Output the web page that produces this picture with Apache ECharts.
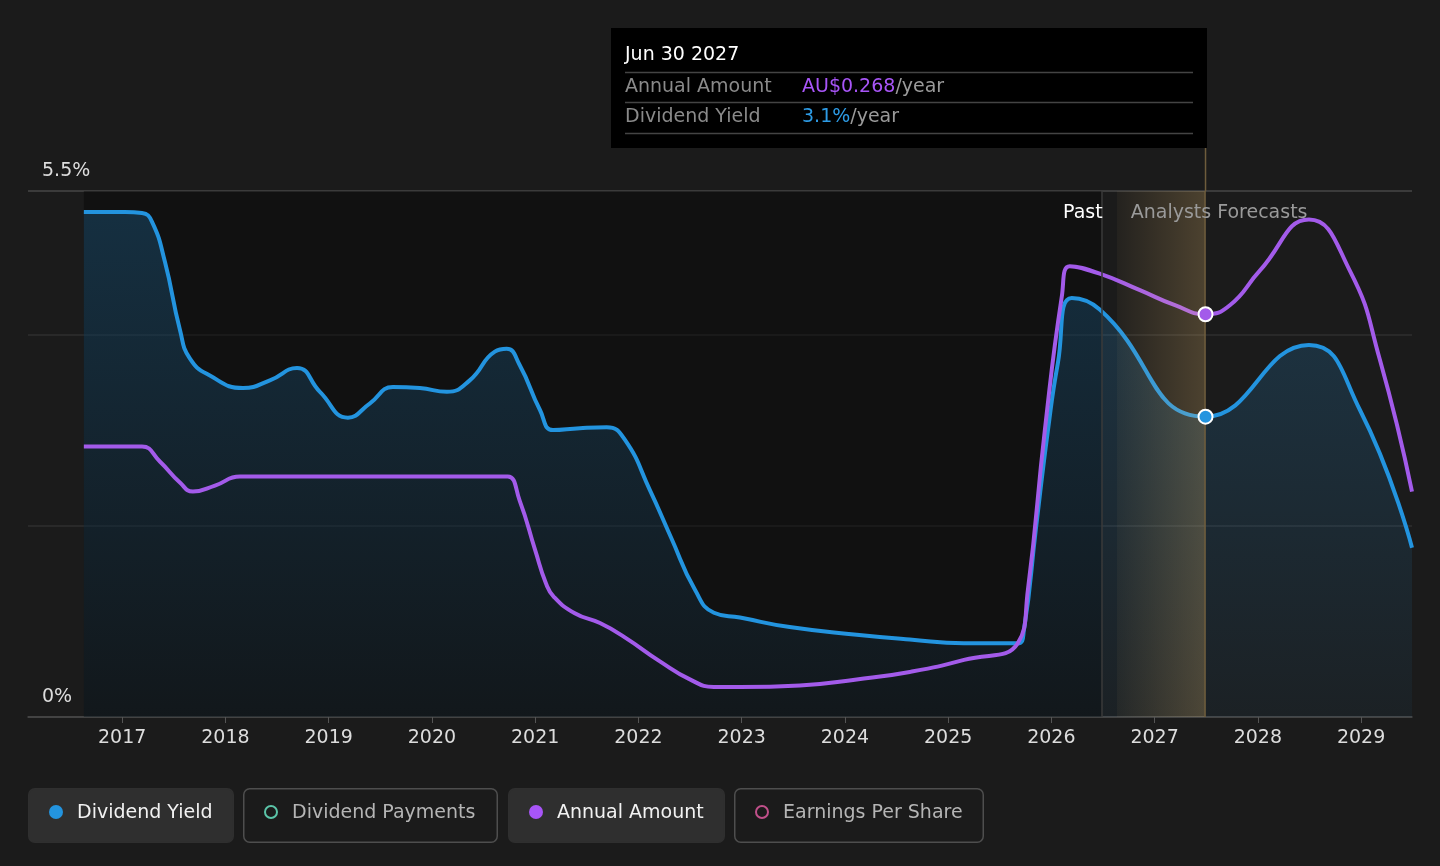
<!DOCTYPE html>
<html><head><meta charset="utf-8">
<script src="https://cdn.jsdelivr.net/npm/echarts@6/dist/echarts.min.js"></script>
<style>html,body{margin:0;padding:0;background:#1b1b1b;}#c{width:1440px;height:866px;}</style>
</head><body><div id="c"></div>
<script>
// ---------- data ----------
const yieldDates = ['2016-08-18','2017-01-11','2017-03-12','2017-04-16','2017-06-01','2017-07-24','2017-08-28','2017-11-07','2018-03-04','2018-06-07','2018-09-11','2018-12-01','2019-03-10','2019-05-27','2019-08-16','2019-11-19','2020-02-23','2020-05-14','2020-08-11','2020-09-22','2020-11-07','2021-01-18','2021-03-05','2021-06-08','2021-09-11','2021-11-14','2022-02-11','2022-04-26','2022-07-20','2022-09-25','2022-12-26','2023-06-20','2024-02-12','2024-08-18','2025-02-26','2025-09-04','2025-09-26','2025-11-07','2025-12-20','2026-01-24','2026-03-14','2026-06-21','2027-06-30','2028-06-30','2028-12-28','2029-06-30'];
const yieldValues = [5.28,5.28,5.27,5.18,4.76,4.05,3.75,3.57,3.44,3.52,3.65,3.40,3.13,3.28,3.45,3.44,3.40,3.52,3.82,3.85,3.68,3.21,3.00,3.02,3.03,2.90,2.37,1.88,1.33,1.09,1.04,0.94,0.86,0.81,0.77,0.77,0.91,1.96,3.00,3.70,4.38,4.26,3.14,3.89,3.21,1.77];

const amountDates = ['2016-08-18','2017-01-11','2017-03-12','2017-05-14','2017-07-24','2017-09-08','2017-11-25','2018-02-21','2018-06-07','2019-09-10','2020-08-11','2020-09-26','2020-11-07','2021-01-01','2021-02-08','2021-03-08','2021-05-21','2021-08-18','2021-11-14','2022-03-18','2022-07-02','2022-09-25','2022-12-26','2023-07-26','2024-02-12','2024-08-18','2025-02-26','2025-09-04','2025-10-10','2025-12-09','2026-02-07','2026-03-07','2026-06-21','2026-11-10','2027-03-14','2027-06-30','2027-09-24','2028-01-08','2028-06-30','2028-11-22','2029-03-08','2029-06-30'];
const amountValues = [0.180,0.180,0.180,0.170,0.156,0.150,0.154,0.160,0.160,0.160,0.160,0.160,0.144,0.111,0.089,0.080,0.069,0.0625,0.053,0.037,0.025,0.020,0.020,0.021,0.025,0.030,0.038,0.049,0.0845,0.191,0.280,0.300,0.295,0.284,0.274,0.268,0.274,0.297,0.331,0.297,0.238,0.150];

const xTickYears = [2017,2018,2019,2020,2021,2022,2023,2024,2025,2026,2027,2028,2029];
const yTickValues = [0, 5.5];
const yTickLabels = ['0%', '5.5%'];
const legendNames = ['Dividend Yield','Dividend Payments','Annual Amount','Earnings Per Share'];
const axisStartDate = '2016-02-02';
const axisEndDate = '2029-06-30';
const pastEndDate = '2026-06-28';
const bandStartDate = '2026-08-21';
const hoverDate = '2027-06-30';
const hoverLabel = 'Jun 30 2027';
const pastLabel = 'Past';
const forecastLabel = 'Analysts Forecasts';

// ---------- helpers ----------
const FONT = '"DejaVu Sans", sans-serif';
const BLUE = '#2394df';
const PURPLE = '#a35bea';
function toYear(s){
  const p = s.split('-').map(Number);
  const a = Date.UTC(p[0],0,1), b = Date.UTC(p[0]+1,0,1);
  return p[0] + (Date.UTC(p[0],p[1]-1,p[2]) - a) / (b - a);
}
const yieldData = yieldDates.map((d,i)=>[toYear(d), yieldValues[i]]);
const amountData = amountDates.map((d,i)=>[toYear(d), amountValues[i]]);
const hx = toYear(hoverDate);
const hoverYield = yieldValues[yieldDates.indexOf(hoverDate)];
const hoverAmount = amountValues[amountDates.indexOf(hoverDate)];

const chart = echarts.init(document.getElementById('c'));
chart.setOption({
  backgroundColor:'#1b1b1b',
  animation:false,
  textStyle:{fontFamily:FONT},
  grid:{left:28,right:28,top:191,bottom:149},
  xAxis:{
    type:'value', min:toYear(axisStartDate), max:toYear(axisEndDate),
    axisLine:{lineStyle:{color:'#474747',width:1.5}},
    axisTick:{show:true, customValues:xTickYears, length:6, lineStyle:{color:'#555'}},
    axisLabel:{customValues:xTickYears, formatter:v=>String(Math.round(v)), color:'#dddddd', fontSize:19, fontFamily:FONT, margin:12},
    splitLine:{show:false}
  },
  yAxis:[{
    type:'value', min:0, max:5.5, interval:2,
    axisLine:{show:false}, axisTick:{show:false},
    axisLabel:{inside:true, formatter:v=>{const i=yTickValues.indexOf(v);return i<0?'':yTickLabels[i];},
      color:'#dddddd', fontSize:19, fontFamily:FONT, margin:14, verticalAlign:'bottom', lineHeight:40},
    splitLine:{lineStyle:{color:['#474747','#2f2f2f','#2f2f2f','#474747'],width:1.5}}
  },{
    type:'value', min:0, max:0.35, show:false, splitLine:{show:false}
  }],
  series:[
    {name:'pastRegion', type:'line', data:[], silent:true,
     markArea:{silent:true, z:1, itemStyle:{color:'rgba(0,0,0,0.36)'},
       data:[[{xAxis:toYear(yieldDates[0])},{xAxis:toYear(pastEndDate)}]]}},
    {name:legendNames[0], type:'line', data:yieldData, smooth:0.5, symbol:'none', z:2,
     lineStyle:{color:BLUE,width:4},
     areaStyle:{color:new echarts.graphic.LinearGradient(0,0,0,1,[{offset:0,color:'rgba(35,148,223,0.33)'},{offset:1,color:'rgba(35,148,223,0.07)'}])},
     markPoint:{z:6, symbol:'circle', symbolSize:14, label:{show:false}, itemStyle:{color:BLUE,borderColor:'#fff',borderWidth:2},
       data:[{coord:[hx,hoverYield]}]}},
    {name:legendNames[2], type:'line', yAxisIndex:1, data:amountData, smooth:0.5, symbol:'none', z:2,
     lineStyle:{color:PURPLE,width:4},
     markPoint:{z:6, symbol:'circle', symbolSize:14, label:{show:false}, itemStyle:{color:PURPLE,borderColor:'#fff',borderWidth:2},
       data:[{coord:[hx,hoverAmount]}]}},
    {name:'overlay', type:'line', data:[], silent:true,
     markArea:{silent:true, z:3, itemStyle:{color:new echarts.graphic.LinearGradient(0,0,1,0,[{offset:0,color:'rgba(255,205,120,0.04)'},{offset:1,color:'rgba(255,205,120,0.22)'}])},
       data:[[{xAxis:toYear(bandStartDate)},{xAxis:hx}]]},
     markLine:{silent:true, z:4, symbol:['none','none'], label:{show:false},
       data:[{xAxis:toYear(pastEndDate), lineStyle:{color:'#3a3a3a',width:1.5,type:'solid'}},
             {xAxis:hx, lineStyle:{color:'#6e5c3c',width:1.5,type:'solid'}}]}}
  ]
});

// ---------- graphics: tooltip, legend, labels ----------
const pxPast = chart.convertToPixel({xAxisIndex:0}, toYear(pastEndDate));
const pxHover = chart.convertToPixel({xAxisIndex:0}, hx);
const pxTop = chart.convertToPixel({yAxisIndex:0}, 5.5);
function txt(x,y,text,fill,align){
  return {type:'text', x:x, y:y, z:100, style:{text:text, fill:fill, font:'19px '+FONT, align:align||'left', verticalAlign:'middle', textAlign:align||'left', textVerticalAlign:'middle'}};
}
function richTxt(x,y,val,valColor,unit){
  return {type:'text', x:x, y:y, z:100, style:{text:'{v|'+val+'}{u|'+unit+'}', font:'19px '+FONT, verticalAlign:'middle', textVerticalAlign:'middle',
    rich:{v:{fill:valColor, font:'19px '+FONT}, u:{fill:'#9a9a9a', font:'19px '+FONT}}}};
}
const g = [];
g.push({type:'rect', z:90, shape:{x:611,y:28,width:596,height:120}, style:{fill:'#000'}});
g.push({type:'line', z:91, shape:{x1:pxHover,y1:148,x2:pxHover,y2:pxTop}, style:{stroke:'#6e5c3c',lineWidth:1.5}});
[72.5,102.5,133.5].forEach(y=>g.push({type:'line', z:91, shape:{x1:625,y1:y,x2:1193,y2:y}, style:{stroke:'#444',lineWidth:1.5}}));
g.push(txt(625,55,hoverLabel,'#ffffff'));
g.push(txt(625,87,legendNames[2],'#8a8a8a'));
g.push(richTxt(802,87,'AU$'+hoverAmount.toFixed(3),'#a855f7','/year'));
g.push(txt(625,117,legendNames[0],'#8a8a8a'));
g.push(richTxt(802,117,hoverYield.toFixed(1)+'%','#2d9be5','/year'));
g.push(txt(pxPast+1,213,pastLabel,'#ffffff','right'));
g.push(txt(pxPast+29,213,forecastLabel,'#9a9a9a','left'));
const legendBoxes = [
  {x:28,w:206,active:true,color:BLUE},
  {x:243,w:255,active:false,color:'#5bc4a8'},
  {x:508,w:217,active:true,color:'#a855f7'},
  {x:734,w:250,active:false,color:'#c0508a'}
];
legendBoxes.forEach((b,i)=>{
  g.push({type:'rect', z:90, shape:{x:b.x+0.75,y:788.75,width:b.w-1.5,height:53.5,r:6},
    style:b.active?{fill:'#2f2f2f',stroke:'#2f2f2f',lineWidth:1.5}:{fill:'#1b1b1b',stroke:'#4e4e4e',lineWidth:1.5}});
  g.push({type:'circle', z:91, shape:{cx:b.x+28,cy:812,r:b.active?7:6},
    style:b.active?{fill:b.color}:{fill:'none',stroke:b.color,lineWidth:2}});
  g.push(txt(b.x+49,813,legendNames[i],b.active?'#f2f2f2':'#b5b5b5'));
});
chart.setOption({graphic:g});
</script></body></html>
